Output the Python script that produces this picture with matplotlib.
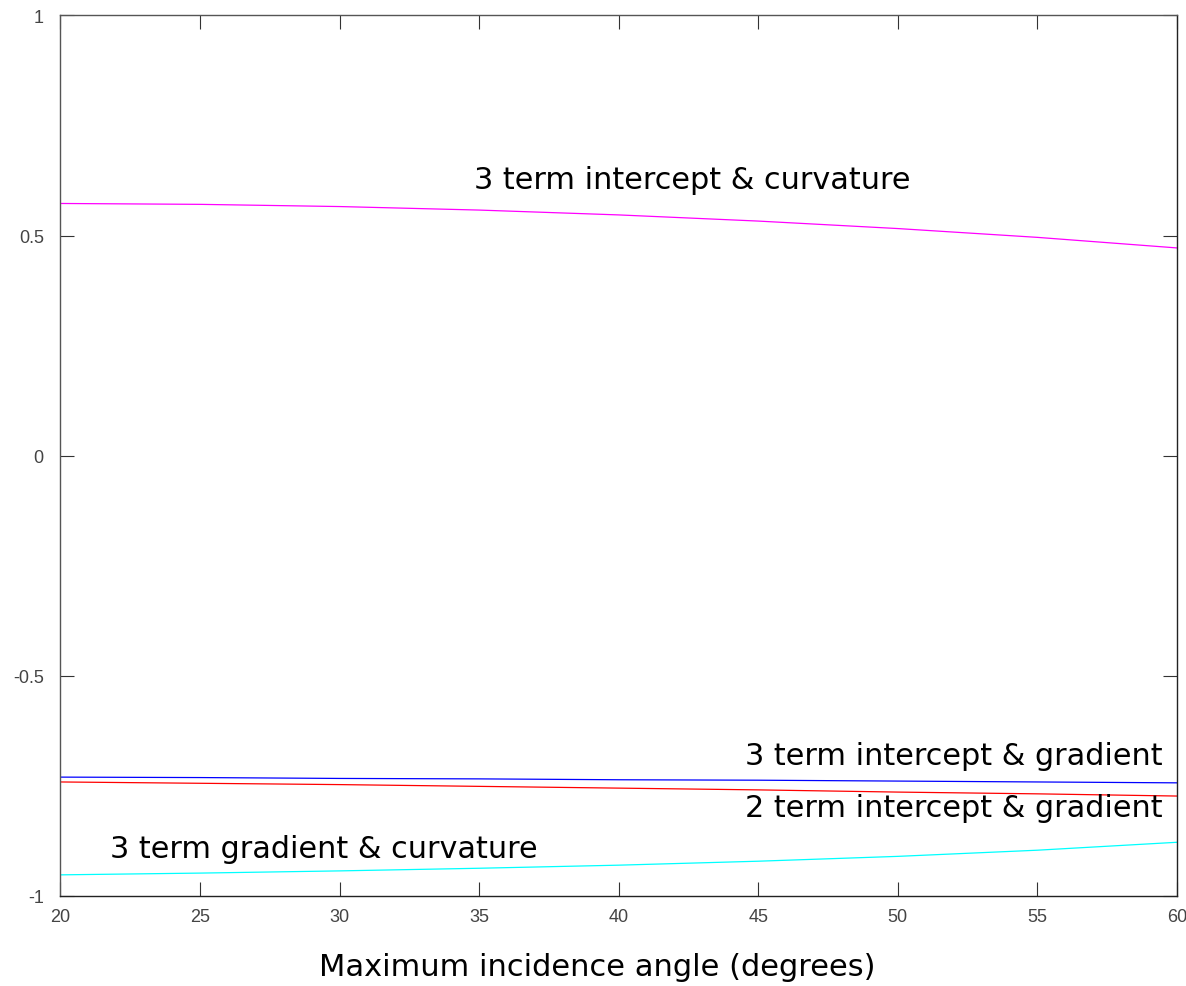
import numpy as np
import matplotlib.pyplot as plt

angles = [20, 25, 30, 35, 40, 45, 50, 55, 60]
icept_curv_3 = [0.573, 0.571, 0.566, 0.558, 0.547, 0.533, 0.516, 0.496, 0.472]
icept_grad_3 = [-0.730, -0.731, -0.733, -0.734, -0.736, -0.737, -0.739, -0.741, -0.743]
icept_grad_2 = [-0.741, -0.744, -0.747, -0.751, -0.755, -0.759, -0.764, -0.768, -0.773]
grad_curv_3 = [-0.952, -0.948, -0.943, -0.937, -0.930, -0.921, -0.910, -0.896, -0.878]

fig = plt.figure(figsize=(11.86, 9.87), dpi=100)
ax = fig.add_axes([0.051, 0.0912, 0.9414, 0.8921])

ax.plot(angles, icept_curv_3, color="#ff00ff", linewidth=0.9)
ax.plot(angles, icept_grad_3, color="#0000ff", linewidth=0.9)
ax.plot(angles, icept_grad_2, color="#ff0000", linewidth=0.9)
ax.plot(angles, grad_curv_3, color="#00ffff", linewidth=0.9)

label_kw = dict(fontsize=21.8, family="DejaVu Sans", color="black")
ax.text(42.65, 0.628, "3 term intercept & curvature", ha="center", va="center", **label_kw)
ax.text(59.5, -0.682, "3 term intercept & gradient", ha="right", va="center", **label_kw)
ax.text(59.5, -0.800, "2 term intercept & gradient", ha="right", va="center", **label_kw)
ax.text(21.77, -0.893, "3 term gradient & curvature", ha="left", va="center", **label_kw)

ax.set_xlim(20, 60)
ax.set_ylim(-1, 1)
ax.set_xticks(range(20, 61, 5))
ax.set_yticks([-1, -0.5, 0, 0.5, 1])
ax.set_yticklabels(["-1", "-0.5", "0", "0.5", "1"])
ax.tick_params(direction="in", length=10, width=0.8, color="#333333",
               top=True, right=True, labelsize=13, labelcolor="#444444")
ax.tick_params(axis="x", pad=9)
ax.tick_params(axis="y", pad=12)
for lbl in ax.get_xticklabels() + ax.get_yticklabels():
    lbl.set_family("Liberation Sans")

for side in ("left", "top"):
    ax.spines[side].set_color("#555555")
for side in ("bottom", "right"):
    ax.spines[side].set_color("#222222")
for sp in ax.spines.values():
    sp.set_linewidth(1.0)

ax.set_xlabel("Maximum incidence angle (degrees)", fontsize=22, family="DejaVu Sans", va="center")
ax.xaxis.set_label_coords(0.4805, -0.0806)

fig.savefig("out.png", dpi=100)
